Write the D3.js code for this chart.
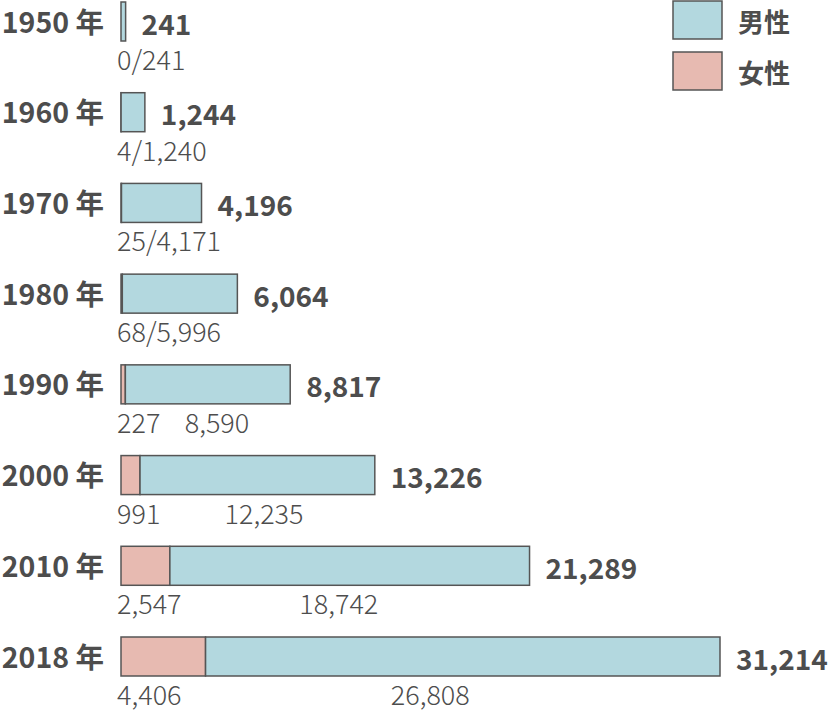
<!DOCTYPE html>
<html>
<head>
<meta charset="utf-8">
<script src="https://cdn.jsdelivr.net/npm/d3@7"></script>
<style>
  body { margin: 0; background: #fff; }
  svg text { font-family: "Noto Sans CJK JP", "Noto Sans", sans-serif; fill: #4d4d4d; }
</style>
</head>
<body>
<svg id="chart" width="830" height="712"></svg>
<script>
// years, female / male counts (female drawn first, left)
var years = [1950, 1960, 1970, 1980, 1990, 2000, 2010, 2018];
var female = [0, 4, 25, 68, 227, 991, 2547, 4406];
var male = [241, 1240, 4171, 5996, 8590, 12235, 18742, 26808];
var legendLabels = ["男性", "女性"];

var colors = { male: "#b3d8df", female: "#e7bab1" };
var stroke = "#555";
var barH = 39;

var fmt = d3.format(",");

var rows = years.map(function (y, i) {
    return { year: y, female: female[i], male: male[i], total: female[i] + male[i] };
});

var svg = d3.select("#chart");

var x = d3.scaleLinear()
    .domain([0, d3.max(rows, function (d) { return d.total; })])
    .range([121, 720]);

// centre of each bar
var y = d3.scalePoint()
    .domain(years)
    .range([21.5, 656.5]);

var g = svg.selectAll("g.row")
    .data(rows)
    .join("g")
      .attr("class", "row")
      .attr("transform", function (d) { return `translate(0, ${y(d.year)})`; });

// year label
g.append("text")
    .attr("x", 104)
    .attr("y", 11)
    .attr("text-anchor", "end")
    .attr("font-size", 28.5)
    .attr("font-weight", 700)
    .text(function (d) { return d.year + " 年"; });

// female segment
g.filter(function (d) { return d.female > 0; })
  .append("rect")
    .attr("x", x(0))
    .attr("y", -barH / 2)
    .attr("width", function (d) { return x(d.female) - x(0); })
    .attr("height", barH)
    .attr("fill", colors.female)
    .attr("stroke", stroke)
    .attr("stroke-width", 1.5);

// male segment
g.append("rect")
    .attr("x", function (d) { return x(d.female); })
    .attr("y", -barH / 2)
    .attr("width", function (d) { return x(d.total) - x(d.female); })
    .attr("height", barH)
    .attr("fill", colors.male)
    .attr("stroke", stroke)
    .attr("stroke-width", 1.5);

// total
g.append("text")
    .attr("x", function (d) { return x(d.total) + 16; })
    .attr("y", 13)
    .attr("font-size", 28)
    .attr("font-weight", 700)
    .text(function (d) { return fmt(d.total); });

// small counts under the bars
var small = function (d) { return d.female < 100; };
var sub = g.append("g")
    .attr("transform", `translate(0, ${barH / 2 + 29})`)
    .attr("font-size", 27)
    .attr("font-weight", 300);

sub.filter(small)
  .append("text")
    .attr("x", 117)
    .text(function (d) { return d.female + "/" + fmt(d.male); });

sub.filter(function (d) { return !small(d); })
  .append("text")
    .attr("x", 117)
    .text(function (d) { return fmt(d.female); });

sub.filter(function (d) { return !small(d); })
  .append("text")
    .attr("x", function (d) { return x(d.female) + 0.36 * (x(d.total) - x(d.female)); })
    .text(function (d) { return fmt(d.male); });

// legend
var legend = svg.append("g")
    .selectAll("g")
    .data(legendLabels)
    .join("g")
      .attr("transform", function (d, i) { return `translate(673, ${1 + i * 51})`; });

legend.append("rect")
    .attr("width", 49)
    .attr("height", 38)
    .attr("fill", function (d, i) { return i === 0 ? colors.male : colors.female; })
    .attr("stroke", stroke)
    .attr("stroke-width", 1.5);

legend.append("text")
    .attr("x", 65)
    .attr("y", 31)
    .attr("font-size", 26)
    .attr("font-weight", 700)
    .text(function (d) { return d; });
</script>
</body>
</html>
